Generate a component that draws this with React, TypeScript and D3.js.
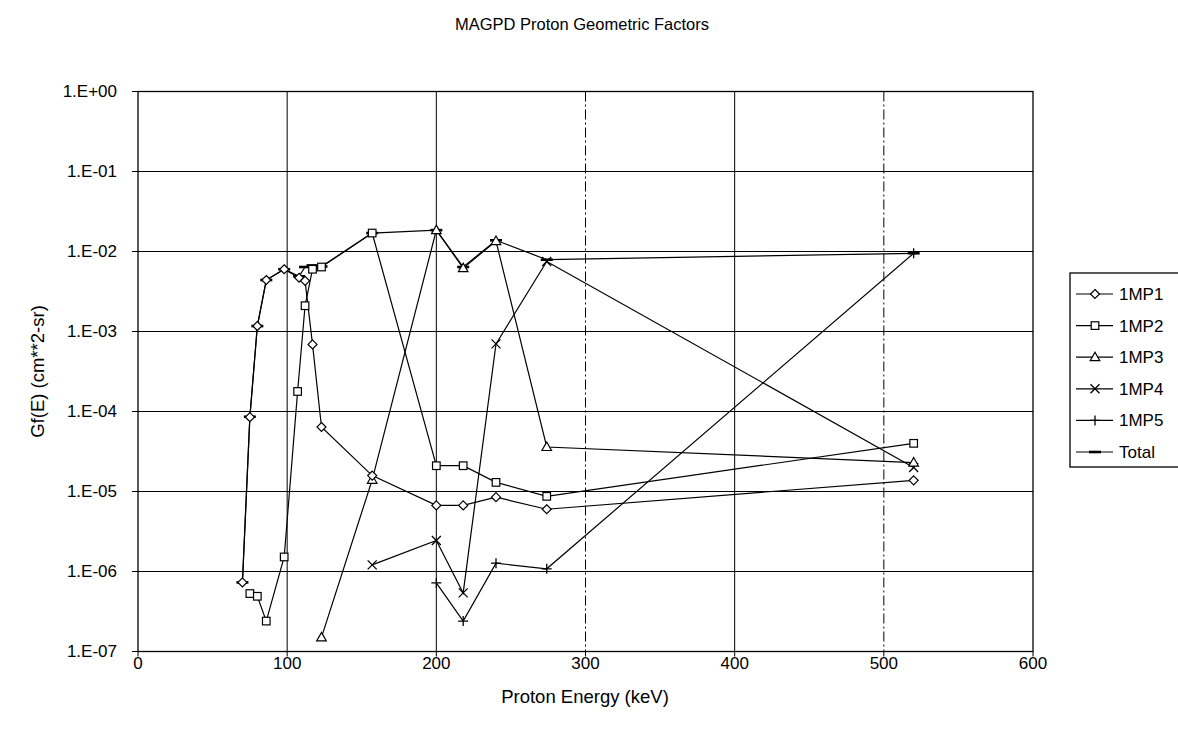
import React from "react";
import * as d3 from "d3";

const energy1 = [70, 75, 80, 86, 98, 108, 112, 117, 123, 157, 200, 218, 240, 274, 520];
const mp1 = [7.3e-7, 8.5e-5, 1.17e-3, 4.4e-3, 6.0e-3, 4.7e-3, 4.3e-3, 6.9e-4, 6.4e-5, 1.58e-5, 6.7e-6, 6.7e-6, 8.5e-6, 6.0e-6, 1.38e-5];
const energy2 = [75, 80, 86, 98, 107, 112, 117, 123, 157, 200, 218, 240, 274, 520];
const mp2 = [5.3e-7, 4.9e-7, 2.4e-7, 1.52e-6, 1.78e-4, 2.1e-3, 6.0e-3, 6.4e-3, 1.7e-2, 2.1e-5, 2.1e-5, 1.3e-5, 8.7e-6, 4.0e-5];
const energy3 = [123, 157, 200, 218, 240, 274, 520];
const mp3 = [1.5e-7, 1.4e-5, 1.85e-2, 6.2e-3, 1.35e-2, 3.6e-5, 2.3e-5];
const energy4 = [157, 200, 218, 240, 274, 520];
const mp4 = [1.21e-6, 2.44e-6, 5.4e-7, 7.0e-4, 7.5e-3, 2.0e-5];
const energy5 = [200, 218, 240, 274, 520];
const mp5 = [7.2e-7, 2.4e-7, 1.27e-6, 1.08e-6, 9.5e-3];
const energyT = [70, 75, 80, 86, 98, 108, 112, 117, 123, 157, 200, 218, 240, 274, 520];
const total = [7.3e-7, 8.6e-5, 1.17e-3, 4.4e-3, 6.0e-3, 4.9e-3, 6.4e-3, 6.7e-3, 6.5e-3, 1.7e-2, 1.85e-2, 6.4e-3, 1.38e-2, 7.9e-3, 9.5e-3];

const seriesNames = ["1MP1", "1MP2", "1MP3", "1MP4", "1MP5", "Total"];
const xTicks = [0, 100, 200, 300, 400, 500, 600];
const yTicks = [1e-7, 1e-6, 1e-5, 1e-4, 1e-3, 1e-2, 1e-1, 1];
const yTickLabels = ["1.E-07", "1.E-06", "1.E-05", "1.E-04", "1.E-03", "1.E-02", "1.E-01", "1.E+00"];

const FONT = "'Liberation Sans', Arial, Helvetica, sans-serif";

type Kind = "diamond" | "square" | "triangle" | "x" | "plus" | "dash";

function Marker({ kind, cx, cy }: { kind: Kind; cx: number; cy: number }) {
  const s = "#000";
  switch (kind) {
    case "diamond":
      return <path d={`M${cx},${cy - 4.5}L${cx + 4.5},${cy}L${cx},${cy + 4.5}L${cx - 4.5},${cy}Z`} fill="#fff" stroke={s} strokeWidth={1.2} />;
    case "square":
      return <rect x={cx - 3.8} y={cy - 3.8} width={7.6} height={7.6} fill="#fff" stroke={s} strokeWidth={1.2} />;
    case "triangle":
      return <path d={`M${cx},${cy - 5}L${cx + 4.8},${cy + 3.5}L${cx - 4.8},${cy + 3.5}Z`} fill="#fff" stroke={s} strokeWidth={1.2} />;
    case "x":
      return <path d={`M${cx - 4.5},${cy - 4.5}L${cx + 4.5},${cy + 4.5}M${cx + 4.5},${cy - 4.5}L${cx - 4.5},${cy + 4.5}`} stroke={s} strokeWidth={1.3} />;
    case "plus":
      return <path d={`M${cx - 5},${cy}L${cx + 5},${cy}M${cx},${cy - 5}L${cx},${cy + 5}`} stroke={s} strokeWidth={1.3} />;
    case "dash":
      return <path d={`M${cx - 6},${cy}L${cx + 6},${cy}`} stroke={s} strokeWidth={2.6} />;
  }
}

export default function App() {
  const W = 1178, H = 738;
  const left = 138, right = 1033, top = 91.5, bottom = 651.5;
  const x = d3.scaleLinear().domain([0, 600]).range([left, right]);
  const y = d3.scaleLog().domain([1e-7, 1]).range([bottom, top]);

  const series: { xs: number[]; ys: number[]; kind: Kind }[] = [
    { xs: energyT, ys: total, kind: "dash" },
    { xs: energy5, ys: mp5, kind: "plus" },
    { xs: energy4, ys: mp4, kind: "x" },
    { xs: energy3, ys: mp3, kind: "triangle" },
    { xs: energy2, ys: mp2, kind: "square" },
    { xs: energy1, ys: mp1, kind: "diamond" },
  ];
  const legendKinds: Kind[] = ["diamond", "square", "triangle", "x", "plus", "dash"];

  const line = d3.line<[number, number]>().x((d) => x(d[0])).y((d) => y(d[1]));

  return (
    <svg width={W} height={H} style={{ position: "absolute", left: 0, top: 0, background: "#fff" }} fontFamily={FONT}>
      <rect x={0} y={0} width={W} height={H} fill="#fff" />
      <text x={582} y={30} textAnchor="middle" fontSize={16.5}>MAGPD Proton Geometric Factors</text>

      {/* gridlines */}
      {yTicks.map((t) => (
        <line key={"gy" + t} x1={left} x2={right} y1={y(t)} y2={y(t)} stroke="#000" strokeWidth={1.2} />
      ))}
      {xTicks.slice(1, -1).map((t) => (
        <line key={"gx" + t} x1={x(t)} x2={x(t)} y1={top} y2={bottom} stroke="#000" strokeWidth={1}
          strokeDasharray={t === 300 || t === 500 ? "10,3,2,3" : undefined} />
      ))}
      <rect x={left} y={top} width={right - left} height={bottom - top} fill="none" stroke="#000" strokeWidth={1.3} />

      {/* ticks */}
      {yTicks.map((t, i) => (
        <g key={"ty" + t}>
          <line x1={left - 6} x2={left} y1={y(t)} y2={y(t)} stroke="#000" />
          <text x={117} y={y(t)} dy="0.35em" textAnchor="end" fontSize={17}>{yTickLabels[i]}</text>
        </g>
      ))}
      {xTicks.map((t) => (
        <g key={"tx" + t}>
          <line x1={x(t)} x2={x(t)} y1={bottom} y2={bottom + 5} stroke="#000" />
          <text x={x(t)} y={bottom + 12} dy="0.35em" textAnchor="middle" fontSize={17}>{t}</text>
        </g>
      ))}
      <text x={585} y={703} textAnchor="middle" fontSize={18.5}>Proton Energy (keV)</text>
      <text transform={`translate(44,${(top + bottom) / 2}) rotate(-90)`} textAnchor="middle" fontSize={18.5}>Gf(E) (cm**2-sr)</text>

      {/* series lines */}
      {series.map((s, i) => (
        <path key={"l" + i} d={line(s.xs.map((v, j) => [v, s.ys[j]] as [number, number])) || ""} fill="none" stroke="#000" strokeWidth={1.2} />
      ))}
      {series.map((s, i) => (
        <g key={"m" + i}>
          {s.xs.map((v, j) => (
            <Marker key={j} kind={s.kind} cx={x(v)} cy={y(s.ys[j])} />
          ))}
        </g>
      ))}

      {/* legend */}
      <rect x={1070} y={273} width={130} height={194} fill="#fff" stroke="#000" strokeWidth={1.3} />
      {seriesNames.map((n, i) => {
        const ly = 294 + i * 31.6;
        return (
          <g key={"lg" + n}>
            <line x1={1076} x2={1113} y1={ly} y2={ly} stroke="#000" strokeWidth={1.2} />
            <Marker kind={legendKinds[i]} cx={1095} cy={ly} />
            <text x={1119} y={ly} dy="0.35em" fontSize={17}>{n}</text>
          </g>
        );
      })}
    </svg>
  );
}
